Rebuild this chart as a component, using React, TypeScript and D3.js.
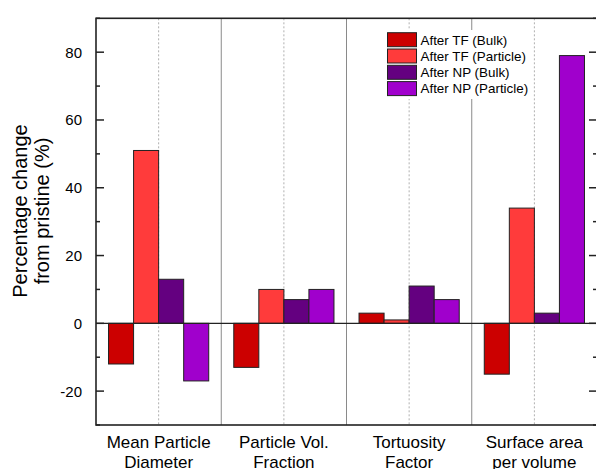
import React from "react";
import * as d3 from "d3";

const categories = [
  ["Mean Particle", "Diameter"],
  ["Particle Vol.", "Fraction"],
  ["Tortuosity", "Factor"],
  ["Surface area", "per volume"],
];
const seriesNames = ["After TF (Bulk)", "After TF (Particle)", "After NP (Bulk)", "After NP (Particle)"];
const tfBulk = [-12, -13, 3, -15];
const tfParticle = [51, 10, 1, 34];
const npBulk = [13, 7, 11, 3];
const npParticle = [-17, 10, 7, 79];
const seriesValues = [tfBulk, tfParticle, npBulk, npParticle];
const seriesColors = ["#CC0000", "#FF3B3B", "#640080", "#A000CC"];
const majorTicks = [-20, 0, 20, 40, 60, 80];
const minorTicks = [-30, -10, 10, 30, 50, 70, 90];

const W = 596;
const H = 469;
const left = 96;
const right = 597;
const top = 18.3;
const bottom = 425;
const FONT = "'Liberation Sans', Arial, Helvetica, sans-serif";

export default function App() {
  const x = d3
    .scaleBand<number>()
    .domain(d3.range(categories.length))
    .range([left, right])
    .paddingInner(0)
    .paddingOuter(0);
  const bw = x.bandwidth();
  const groupWidth = bw * 0.8;
  const barW = groupWidth / seriesValues.length;
  const y = d3.scaleLinear().domain([-30, 90]).range([bottom, top]);

  return (
    <svg
      width={W}
      height={H}
      style={{ position: "absolute", left: 0, top: 0, background: "#fff" }}
      fontFamily={FONT}
    >
      <rect x={0} y={0} width={W} height={H} fill="#fff" />
      {/* category separators and centers */}
      {d3.range(1, categories.length).map((i) => (
        <line
          key={"sep" + i}
          x1={x(i)!}
          x2={x(i)!}
          y1={top}
          y2={bottom}
          stroke="#8a8a8a"
          strokeWidth={1}
        />
      ))}
      {d3.range(categories.length).map((i) => (
        <line
          key={"ctr" + i}
          x1={x(i)! + bw / 2}
          x2={x(i)! + bw / 2}
          y1={top}
          y2={bottom}
          stroke="#b0b0b0"
          strokeWidth={1}
          strokeDasharray="2,2"
        />
      ))}
      {/* bars */}
      {seriesValues.map((vals, s) =>
        vals.map((v, i) => {
          const x0 = x(i)! + (bw - groupWidth) / 2 + s * barW;
          const y0 = y(Math.max(0, v));
          const h = Math.abs(y(v) - y(0));
          return (
            <rect
              key={s + "-" + i}
              x={x0}
              y={y0}
              width={barW}
              height={h}
              fill={seriesColors[s]}
              stroke="#222"
              strokeWidth={1}
            />
          );
        })
      )}
      {/* zero line */}
      <line x1={left} x2={right} y1={y(0)} y2={y(0)} stroke="#222" strokeWidth={1.2} />
      {/* legend */}
      <rect x={384} y={30} width={146} height={69} fill="#fff" />
      {seriesNames.map((name, i) => {
        const cy = 39.7 + i * 16.3;
        return (
          <g key={"leg" + i}>
            <rect
              x={387.5}
              y={cy - 7}
              width={29}
              height={14}
              fill={seriesColors[i]}
              stroke="#222"
              strokeWidth={1}
            />
            <text x={420.5} y={cy + 4.8} fontSize={13.4} fill="#000">
              {name}
            </text>
          </g>
        );
      })}
      {/* ticks */}
      {majorTicks.map((t) => (
        <g key={"mt" + t}>
          <line x1={left} x2={left + 8} y1={y(t)} y2={y(t)} stroke="#222" strokeWidth={1.5} />
          <line x1={right} x2={right - 8} y1={y(t)} y2={y(t)} stroke="#222" strokeWidth={1.5} />
          <text
            x={82}
            y={y(t)}
            dy="0.36em"
            textAnchor="end"
            fontSize={15}
            fill="#000"
          >
            {t}
          </text>
        </g>
      ))}
      {minorTicks.map((t) => (
        <g key={"nt" + t}>
          <line x1={left} x2={left + 4} y1={y(t)} y2={y(t)} stroke="#222" strokeWidth={1.5} />
          <line x1={right} x2={right - 4} y1={y(t)} y2={y(t)} stroke="#222" strokeWidth={1.5} />
        </g>
      ))}
      {/* frame */}
      <rect
        x={left}
        y={top}
        width={right - left}
        height={bottom - top}
        fill="none"
        stroke="#222"
        strokeWidth={1.6}
      />
      {/* category labels */}
      {categories.map((lines, i) => (
        <text
          key={"cat" + i}
          x={x(i)! + bw / 2}
          y={447.5}
          textAnchor="middle"
          fontSize={17}
          fill="#000"
        >
          <tspan x={x(i)! + bw / 2} y={447.5}>
            {lines[0]}
          </tspan>
          <tspan x={x(i)! + bw / 2} y={467.5}>
            {lines[1]}
          </tspan>
        </text>
      ))}
      {/* y title */}
      <text
        transform={`translate(27,211) rotate(-90)`}
        textAnchor="middle"
        fontSize={20}
        fill="#000"
      >
        <tspan x={0} y={0}>
          Percentage change
        </tspan>
        <tspan x={0} y={22}>
          from pristine (%)
        </tspan>
      </text>
    </svg>
  );
}
